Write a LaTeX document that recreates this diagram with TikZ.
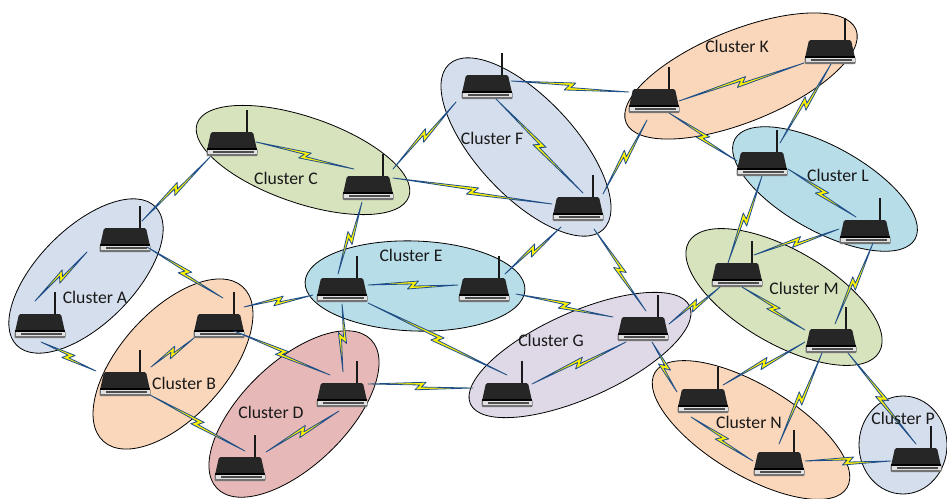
\documentclass[tikz,border=0pt]{standalone}
\usepackage{fontspec}
\setmainfont{Carlito}
\usetikzlibrary{calc,shapes.geometric}
\definecolor{clsSteel}{HTML}{D4DEEC}
\definecolor{clsPeach}{HTML}{FAD7BB}
\definecolor{clsGreen}{HTML}{D7E3BD}
\definecolor{clsAqua}{HTML}{B7DDE8}
\definecolor{clsRose}{HTML}{E6B9B8}
\definecolor{clsLilac}{HTML}{DFD9E7}
\definecolor{linkBlue}{HTML}{1F4E8C}
\tikzset{
  cluster/.style={ellipse,draw=black,line width=0.8pt,inner sep=0pt},
  clusterlabel/.style={inner sep=0pt,font=\fontsize{17.7}{20}\selectfont,text=black!90},
  routerbody/.style={minimum width=50pt,minimum height=24pt,inner sep=0pt},
  % a wireless link: the two arguments shift its ends away from the router centres
  wlink/.style 2 args={draw=linkBlue,fill=yellow,line width=0.8pt,line join=round,
    to path={
      ($(\tikztostart)+(#1)$) coordinate (s)
      ($(\tikztotarget)+(#2)$) coordinate (e)
      ($(s)!.5!(e)$) coordinate (m)
      ($(m)!5.5pt!(e)!4pt!90:(e)$) coordinate (f)
      ($(m)!1pt!(e)!1pt!-90:(e)$) coordinate (g)
      ($(m)!5.5pt!(s)!4pt!90:(s)$) coordinate (b)
      ($(m)!1pt!(s)!1pt!-90:(s)$) coordinate (c)
      (s) -- (f) -- (g) -- (e) -- (b) -- (c) -- cycle
    }},
}
\begin{document}
\begin{tikzpicture}[x=1pt,y=-1pt]
  \useasboundingbox (0,0) rectangle (947,498);
  % clusters
  \foreach \name/\pos/\wid/\hei/\ang/\col in {
    A/{86,276}/196/96/45/clsSteel, B/{173,364}/208/106/48/clsPeach,
    C/{303,160}/224/86/-19/clsGreen, D/{294,414}/214/104/44/clsRose,
    E/{415,286}/220/90/-2/clsAqua, F/{526,147}/226/98/-47/clsSteel,
    G/{580,355}/240/86/24/clsLilac, K/{741,76}/248/92/22/clsPeach,
    L/{825,189}/206/85/-29/clsAqua, M/{784,297}/220/94/-30/clsGreen,
    N/{751,430}/224/90/-31/clsPeach, P/{903,445}/98/88/90/clsSteel}
    \node[cluster,fill=\col,minimum width=\wid pt,minimum height=\hei pt,rotate=\ang] (cl\name) at (\pos) {};
  % routers
  \foreach \name/\pos in {
    A1/{125,240}, A2/{40,326}, B1/{219,326}, B2/{125,384}, C1/{232,144}, C2/{368,188},
    D1/{342,395}, D2/{240,469}, E1/{342,290}, E2/{484,290}, F1/{487,87}, F2/{578,209},
    G1/{643,329}, G2/{507,395}, K1/{654,101}, K2/{830,52}, L1/{762,164}, L2/{865,232},
    M1/{737,275}, M2/{831,341}, N1/{703,401}, N2/{779,464}, P1/{916,460}} {
    \node[routerbody] (\name) at (\pos) {};
    \begin{scope}[shift={(\name)}]
      \draw[line width=2.5pt,black!90] (15,-11) -- (15,-34);
      \fill[black!85,rounded corners=1.5pt] (-25,6) -- (-21,-12) -- (21,-12) -- (25,6) -- cycle;
      \fill[black!55,rounded corners=1pt] (-25.5,5) rectangle (25.5,12);
      \fill[black!12] (-24.5,6) rectangle (24.5,10);
      \fill[black!70] (-19,7.2) rectangle (22,8.8);
      \fill[black] (-25,3.5) rectangle (25,5.5);
    \end{scope}
  }
  % wireless links
  \draw[wlink={-5,-25}{-38,12}] (A2) to (A1);
  \draw[wlink={1,16}{-29,-13}] (A2) to (B2);
  \draw[wlink={22,7}{4,-28}] (A1) to (B1);
  \draw[wlink={17,-19}{-22,13}] (A1) to (C1);
  \draw[wlink={26,-17}{-25,12}] (B2) to (B1);
  \draw[wlink={25,11}{5,-18}] (B2) to (D2);
  \draw[wlink={25,-19}{-29,5}] (B1) to (E1);
  \draw[wlink={15,5}{-12,-20}] (B1) to (D1);
  \draw[wlink={26,-17}{-3,16}] (D2) to (D1);
  \draw[wlink={0,14}{1,-23}] (E1) to (D1);
  \draw[wlink={26,-11}{-34,-7}] (D1) to (G2);
  \draw[wlink={-6,14}{-4,-16}] (C2) to (E1);
  \draw[wlink={25,-10}{-26,-5}] (C2) to (F2);
  \draw[wlink={26,-5}{-26,-5}] (E1) to (E2);
  \draw[wlink={26,13}{0,-20}] (E1) to (G2);
  \draw[wlink={21,-16}{-17,18}] (E2) to (F2);
  \draw[wlink={32,4}{-30,-12}] (E2) to (G1);
  \draw[wlink={16,20}{3,-18}] (F2) to (G1);
  \draw[wlink={25,-11}{-17,13}] (G2) to (G1);
  \draw[wlink={26,-5}{-17,12}] (G1) to (M1);
  \draw[wlink={9,13}{-26,-9}] (G1) to (N1);
  \draw[wlink={24,-2}{-14,-19}] (C1) to (C2);
  \draw[wlink={25,-19}{-31,15}] (C2) to (F1);
  \draw[wlink={24,-6}{-25,-9}] (F1) to (K1);
  \draw[wlink={9,12}{5,-16}] (F1) to (F2);
  \draw[wlink={25,-15}{-7,19}] (F2) to (K1);
  \draw[wlink={25,0}{-26,11}] (K1) to (K2);
  \draw[wlink={15,12}{-25,-3}] (K1) to (L1);
  \draw[wlink={18,-21}{1,12}] (L1) to (K2);
  \draw[wlink={26,5}{-9,-15}] (L1) to (L2);
  \draw[wlink={-9,-12}{0,12}] (M1) to (L1);
  \draw[wlink={17,-20}{-26,-3}] (M1) to (L2);
  \draw[wlink={4,-17}{8,11}] (M2) to (L2);
  \draw[wlink={5,12}{-26,-11}] (M1) to (M2);
  \draw[wlink={20,-16}{-26,1}] (N1) to (M2);
  \draw[wlink={0,-20}{-9,12}] (N2) to (M2);
  \draw[wlink={17,12}{0,-16}] (M2) to (P1);
  \draw[wlink={-12,16}{-26,-3}] (N1) to (N2);
  \draw[wlink={26,-3}{-25,1}] (N2) to (P1);
  % cluster labels
  \foreach \name/\pos in {
    A/{95,297}, B/{184,383}, C/{286,178}, D/{271,412}, E/{411,255}, F/{492,138},
    G/{551,340}, K/{737,46}, L/{838,175}, M/{804,288}, N/{749,422}, P/{903,418}}
    \node[clusterlabel] (lab\name) at (\pos) {Cluster \name};
\end{tikzpicture}
\end{document}
